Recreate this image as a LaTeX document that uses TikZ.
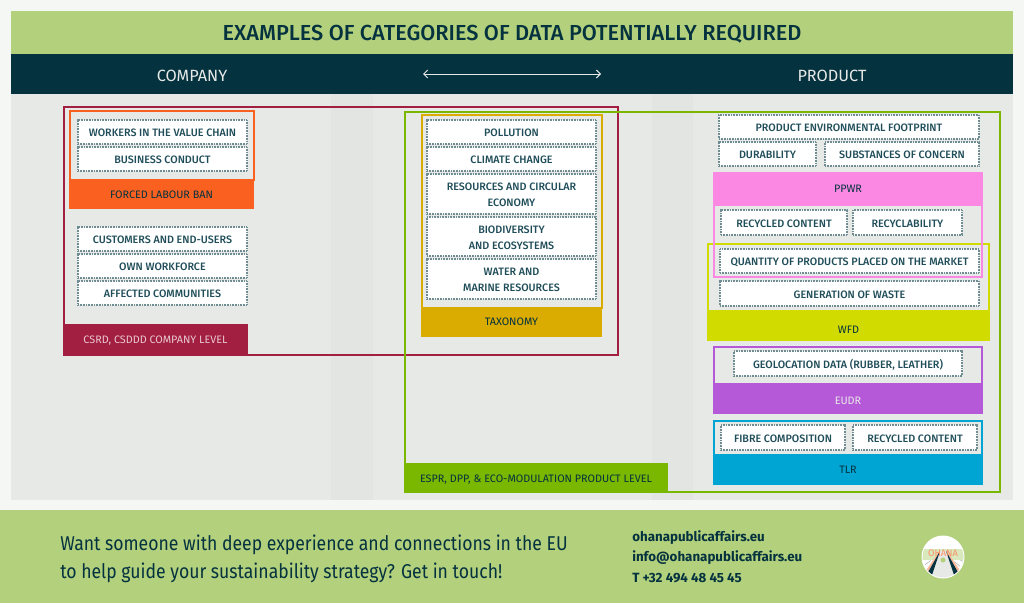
\documentclass[tikz,border=0pt]{standalone}
\usepackage{fontspec}
\setmainfont{Fira Sans}
\newfontfamily\fmed{Fira Sans Medium}
\newfontfamily\ffoot{Fira Sans}[FakeStretch=0.88]
\usetikzlibrary{arrows.meta}
\definecolor{ink}{HTML}{1F4D59}
\definecolor{deep}{HTML}{04323F}
\definecolor{leaf}{HTML}{B3D07C}
\definecolor{panel}{HTML}{E7E9E7}
\definecolor{panelb}{HTML}{E3E5E3}
\definecolor{page}{HTML}{F5F7F5}
\definecolor{dots}{HTML}{6F8C93}
\definecolor{csrd}{HTML}{A31F41}
\definecolor{orng}{HTML}{FA6121}
\definecolor{taxo}{HTML}{DAAB00}
\definecolor{espr}{HTML}{7AB800}
\definecolor{pink}{HTML}{FB88E2}
\definecolor{wfdc}{HTML}{D2DB00}
\definecolor{eudr}{HTML}{B659D9}
\definecolor{tlrc}{HTML}{00A5D3}
\tikzset{
  x=0.75pt,y=-0.75pt,
  databox/.style={draw=dots,dash pattern=on 0.6pt off 0.6pt,line width=0.8pt,fill=white,inner sep=0pt,align=center,
    text=ink,font=\fontsize{8.05}{12}\selectfont\fmed},
  bandtext/.style={inner sep=0pt,align=center,font=\fontsize{8.1}{10}\selectfont},
  frame/.style={line width=1.5pt,fill=none},
  foot/.style={anchor=west,inner sep=0pt,text=deep},
}
% name, x1, y1, x2, y2, text
\newcommand\dbox[6]{\node[databox,minimum width=0.75pt*(#4-#2),minimum height=0.75pt*(#5-#3)] (#1) at ({(#2+#4)/2},{(#3+#5)/2}) {\rule{0pt}{9.2pt}#6\rule[-2pt]{0pt}{0pt}};}
% name, colour, x1, y1, x2, y2, text colour, text, label offset
\newcommand\band[9]{\fill[#2] (#3,#4) rectangle (#5,#6);\node[bandtext,text=#7] (#1) at ({(#3+#5)/2},{(#4+#6)/2+#9}) {#8};}
\begin{document}
\begin{tikzpicture}
\useasboundingbox (0,0) rectangle (1024,603);
\fill[page] (0,0) rectangle (1024,603);
\fill[panel] (11,94) rectangle (1013,500);
\fill[panelb] (331,94) rectangle (373,500);
\fill[panelb] (652,94) rectangle (693,500);
\fill[leaf] (11,11) rectangle (1013,54);
\fill[deep] (11,54) rectangle (1013,94);
\fill[leaf] (0,510) rectangle (1024,603);
\node[inner sep=0pt,text=deep,font=\fontsize{16.3}{18}\selectfont\fmed] (title) at (512,34) {EXAMPLES OF CATEGORIES OF DATA POTENTIALLY REQUIRED};
\node[inner sep=0pt,text=panel,font=\fontsize{12.2}{14}\selectfont] (company) at (192,76) {COMPANY};
\node[inner sep=0pt,text=panel,font=\fontsize{12.2}{14}\selectfont] (product) at (832,76) {PRODUCT};
\coordinate (arrl) at (423,74);
\coordinate (arrr) at (601,74);
\draw[panel,line width=0.75pt,{Straight Barb[length=3pt,width=6pt]}-{Straight Barb[length=3pt,width=6pt]}] (arrl) -- (arrr);
% large frames
\draw[frame,csrd] (64,107) rectangle (617.5,354.5);
\draw[frame,espr] (405,111.5) rectangle (999.5,491.5);
\band{csrdl}{csrd}{63}{324}{248}{355}{white!75!csrd}{CSRD, CSDDD COMPANY LEVEL}{1}
\band{esprl}{espr}{404}{463}{668}{492}{deep}{ESPR, DPP, \& ECO-MODULATION PRODUCT LEVEL}{2}
% forced labour
\draw[frame,orng] (70,111) rectangle (253.5,180);
\band{forced}{orng}{69}{179}{254}{209}{deep}{FORCED LABOUR BAN}{1}
\dbox{a1}{78}{120}{247}{144}{WORKERS IN THE VALUE CHAIN}
\dbox{a2}{78}{147}{247}{171}{BUSINESS CONDUCT}
\dbox{a3}{78}{227}{247}{251}{CUSTOMERS AND END-USERS}
\dbox{a4}{78}{254}{247}{278}{OWN WORKFORCE}
\dbox{a5}{78}{281}{247}{305}{AFFECTED COMMUNITIES}
% taxonomy
\draw[frame,taxo] (422,115) rectangle (601.5,308);
\band{taxl}{taxo}{421}{307}{602}{337}{deep}{TAXONOMY}{0}
\dbox{b1}{427}{120}{596}{144}{POLLUTION}
\dbox{b2}{427}{147}{596}{171}{CLIMATE CHANGE}
\dbox{b3}{427}{174}{596}{214}{RESOURCES AND CIRCULAR\\ECONOMY}
\dbox{b4}{427}{217}{596}{256}{BIODIVERSITY\\AND ECOSYSTEMS}
\dbox{b5}{427}{259}{596}{299}{WATER AND\\MARINE RESOURCES}
% product top
\dbox{c1}{719}{115}{979}{139}{PRODUCT ENVIRONMENTAL FOOTPRINT}
\dbox{c2}{719}{142}{816}{166}{DURABILITY}
\dbox{c3}{825}{142}{979}{166}{SUBSTANCES OF CONCERN}
% WFD
\draw[frame,wfdc] (708,244) rectangle (989,311);
\band{wfdl}{wfdc}{707}{310}{990}{341}{deep}{WFD}{4}
% PPWR
\draw[frame,pink] (714,205) rectangle (982,276.5);
\band{ppwrl}{pink}{713}{172}{983}{205}{deep}{PPWR}{0}
\dbox{d1}{721}{210}{847}{235}{RECYCLED CONTENT}
\dbox{d2}{853}{210}{962}{235}{RECYCLABILITY}
\dbox{d3}{720}{249}{979}{273}{QUANTITY OF PRODUCTS PLACED ON THE MARKET}
\dbox{d4}{720}{281}{979}{306}{GENERATION OF WASTE}
% EUDR
\draw[frame,eudr] (714,347) rectangle (982,384);
\band{eudrl}{eudr}{713}{383}{983}{414}{panel}{EUDR}{2}
\dbox{e1}{734}{351}{962}{376}{GEOLOCATION DATA (RUBBER, LEATHER)}
% TLR
\draw[frame,tlrc] (714,421) rectangle (982,455);
\band{tlrl}{tlrc}{713}{454}{983}{485}{deep}{TLR}{0}
\dbox{f1}{721}{425}{845}{450}{FIBRE COMPOSITION}
\dbox{f2}{853}{425}{977}{450}{RECYCLED CONTENT}
% footer
\node[foot,font=\fontsize{15}{20}\selectfont\ffoot] (cta1) at (60,545) {Want someone with deep experience and connections in the EU};
\node[foot,font=\fontsize{15}{20}\selectfont\ffoot] (cta2) at (60,573) {to help guide your sustainability strategy? Get in touch!};
\node[foot,font=\fontsize{10}{12}\selectfont\bfseries] (web) at (632,538) {ohanapublicaffairs.eu};
\node[foot,font=\fontsize{10}{12}\selectfont\bfseries] (mail) at (632,558) {info@ohanapublicaffairs.eu};
\node[foot,font=\fontsize{10}{12}\selectfont\bfseries] (tel) at (632,578) {T +32 494 48 45 45};
% logo
\fill[white] (943,557) circle (21.5);
\begin{scope}
\clip (943,557) circle (20.5);
\foreach \a in {10,25,...,170}{\draw[black!30,line width=0.4pt] (943,552) ++(\a:15) -- ++(\a:7);}
\fill[leaf!50!white] (922,549) rectangle (964,560);
\fill[panel] (923,580) -- (940,551) -- (946,551) -- (963,580) -- cycle;
\fill[orng!45!white] (925,572) -- (939,551) -- (940,551) -- (927,574) -- cycle;
\fill[orng!45!white] (961,572) -- (947,551) -- (946,551) -- (959,574) -- cycle;
\fill[deep] (927,574) -- (940,551) -- (931,578) -- cycle;
\fill[deep] (959,574) -- (946,551) -- (955,578) -- cycle;
\fill[leaf] (943,560) circle (2.5);
\end{scope}
\node[inner sep=0pt,text=orng!70!white,font=\fontsize{7}{8}\selectfont] (logo) at (943,553) {OHANA};
\end{tikzpicture}
\end{document}
